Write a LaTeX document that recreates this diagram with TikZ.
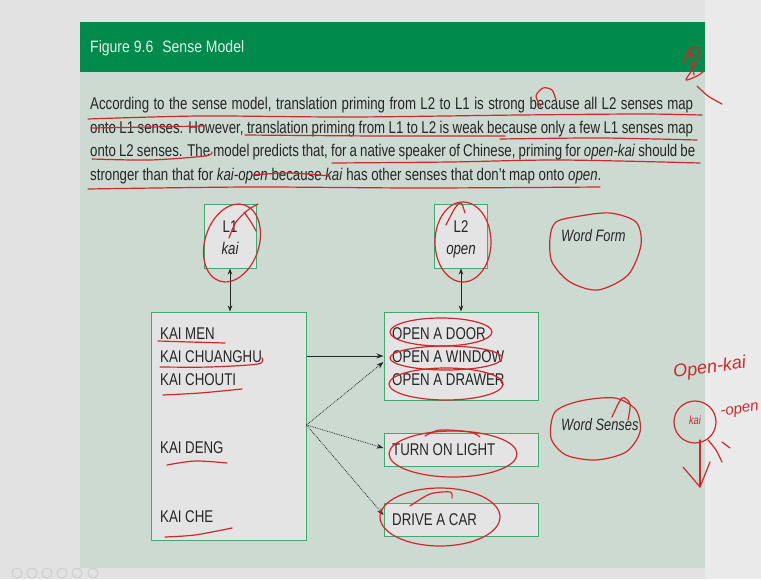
\documentclass[tikz,border=0pt]{standalone}
\usepackage{fontspec}
\setmainfont{Liberation Sans}
\newfontfamily\cond[FakeStretch=0.78]{Liberation Sans}
\newfontfamily\hfont[FakeStretch=0.85]{Liberation Sans}
\usetikzlibrary{arrows.meta}
\definecolor{hdr}{HTML}{008A4B}
\definecolor{panel}{HTML}{CCDAD2}
\definecolor{outer}{HTML}{E2E2E2}
\definecolor{outerr}{HTML}{EAEAEA}
\definecolor{boxfill}{HTML}{E4E4E4}
\definecolor{boxline}{HTML}{3DAA6E}
\definecolor{ink}{HTML}{D02828}
\definecolor{txt}{HTML}{262626}
\definecolor{icon}{HTML}{C9C9C9}
\begin{document}
\begin{tikzpicture}[x=1pt,y=-1pt,
  sbox/.style={draw=boxline, fill=boxfill, line width=1pt, inner sep=0},
  para/.style={anchor=base west, inner sep=0, font=\cond\fontsize{17}{18}\selectfont, text=txt},
  item/.style={anchor=base west, inner sep=0, font=\cond\fontsize{17}{18}\selectfont, text=txt},
  lang/.style={anchor=base, inner sep=0, font=\cond\fontsize{17}{18}\selectfont, text=txt},
  side/.style={anchor=base west, inner sep=0, font=\cond\itshape\fontsize{16.5}{18}\selectfont, text=txt},
  redink/.style={draw=ink, line width=1.2pt, line cap=round, line join=round},
  hand/.style={inner sep=0, text=ink, font=\itshape\fontsize{18}{18}\selectfont},
  link/.style={-{Stealth[length=7pt,width=5pt]}, line width=0.8pt, draw=txt},
  dlink/.style={{Stealth[length=6pt,width=4.5pt]}-{Stealth[length=6pt,width=4.5pt]}, line width=0.8pt, draw=txt},
  dotlink/.style={-{Stealth[length=7pt,width=5pt]}, line width=0.8pt, draw=txt, densely dotted}]
\useasboundingbox (0,0) rectangle (761,579);
% backgrounds
\fill[outer] (0,0) rectangle (761,579);
\fill[outerr] (705,0) rectangle (761,579);
\fill[panel] (80,22) rectangle (705,568);
\fill[hdr] (80,22) rectangle (705,72);
\node[anchor=base west, inner sep=0, font=\hfont\fontsize{16.5}{18}\selectfont, text=white!88!hdr] (title) at (90,52) {Figure 9.6\hspace{9pt}Sense Model};
% icons
\foreach \i/\xx in {1/17,2/32,3/47,4/62,5/77,6/93}
  \draw[icon, line width=0.8pt] (\xx,573) circle [radius=5];
% paragraph
\node[para] (p1) at (90,109) {\makebox[603pt][s]{According to the sense model, translation priming from L2 to L1 is strong because all L2 senses map}};
\node[para] (p2) at (90,133) {\makebox[603pt][s]{onto L1 senses. However, translation priming from L1 to L2 is weak because only a few L1 senses map}};
\node[para] (p3) at (90,156) {\makebox[605pt][s]{onto L2 senses. The model predicts that, for a native speaker of Chinese, priming for \textit{open-kai} should be}};
\node[para] (p4) at (90,180) {stronger than that for \textit{kai-open} because \textit{kai} has other senses that don’t map onto \textit{open}.};
% word form boxes
\node[sbox, minimum width=52, minimum height=64] (l1) at (230,236) {};
\node[sbox, minimum width=53, minimum height=64] (l2) at (461,236) {};
\node[lang] (l1a) at (230,232) {L1};
\node[lang] (l1b) at (230,254) {\itshape kai};
\node[lang] (l2a) at (461,232) {L2};
\node[lang] (l2b) at (461,254) {\itshape open};
% sense boxes
\node[sbox, minimum width=155, minimum height=228] (left) at (228.5,426) {};
\node[sbox, minimum width=154, minimum height=88] (r1) at (461,356) {};
\node[sbox, minimum width=154, minimum height=33] (r2) at (461,449.5) {};
\node[sbox, minimum width=154, minimum height=33] (r3) at (461,519.5) {};
\node[item] (k1) at (160,339) {KAI MEN};
\node[item] (k2) at (160,362) {KAI CHUANGHU};
\node[item] (k3) at (160,385) {KAI CHOUTI};
\node[item] (k4) at (160,453) {KAI DENG};
\node[item] (k5) at (160,522) {KAI CHE};
\node[item] (o1) at (392,339) {OPEN A DOOR};
\node[item] (o2) at (392,362) {OPEN A WINDOW};
\node[item] (o3) at (392,385) {OPEN A DRAWER};
\node[item] (o4) at (392,455) {TURN ON LIGHT};
\node[item] (o5) at (392,525) {DRIVE A CAR};
\node[side] (wf) at (561,241) {Word Form};
\node[side] (ws) at (561,430) {Word Senses};
% connectors
\draw[dlink] (l1.south) -- (l1.south |- left.north);
\draw[dlink] (l2.south) -- (l2.south |- r1.north);
\coordinate (src) at (306.5,425);
\draw[link] (left.east |- 0,356) -- (r1.west |- 0,356);
\draw[dotlink] (src) -- (r1.west |- 0,362);
\draw[dotlink] (src) -- (r2.west |- 0,448);
\draw[dotlink] (src) -- (r3.west |- 0,515);
% ---- red annotations ----
% top right
\draw[redink] plot[smooth] coordinates {(684,62) (689,50) (696,47) (699,55) (692,70) (686,80) (697,76) (703,72)};
\draw[redink] plot[smooth] coordinates {(689,50) (692,62) (694,75)};
\draw[redink] (684,62) -- (689,50) -- (694,57);
\draw[redink] plot[smooth] coordinates {(697,86) (708,96) (722,104)};
% paragraph marks
\draw[redink] plot[smooth] coordinates {(541,107) (536,96) (543,88) (552,90) (556,100)};
\draw[redink] plot[smooth] coordinates {(88,119) (200,116) (350,117) (520,115) (640,114) (702,115)};
\draw[redink] plot[smooth] coordinates {(92,128) (150,127) (205,126)};
\draw[redink] plot[smooth] coordinates {(245,135) (380,136) (505,136)};
\draw[redink] plot[smooth] coordinates {(500,139) (600,138) (697,140)};
\draw[redink] plot[smooth] coordinates {(92,159) (150,160) (205,156) (212,152)};
\draw[redink] plot[smooth] coordinates {(332,163) (450,162) (560,160) (700,163)};
\draw[redink] plot[smooth] coordinates {(252,175) (290,173) (330,176)};
\draw[redink] plot[smooth] coordinates {(88,189) (250,187) (420,188) (600,187)};
% L1 / L2
\draw[redink, rotate around={-18:(232,243)}] (232,243) ellipse [x radius=27, y radius=40];
\draw[redink] plot[smooth] coordinates {(229,238) (236,222) (248,210) (258,204)};
\draw[redink] plot[smooth] coordinates {(244,212) (251,222) (256,231)};
\draw[redink] (463,242) ellipse [x radius=28, y radius=40];
\draw[redink] plot[smooth] coordinates {(446,225) (455,208) (461,203) (465,213)};
% word form / senses
\draw[redink] plot[smooth cycle] coordinates {(556,222) (580,216) (610,213) (636,222) (641,245) (628,275) (598,290) (570,282) (552,262) (550,238)};
\draw[redink] plot[smooth cycle] coordinates {(555,412) (580,401) (615,398) (636,410) (640,432) (626,452) (596,460) (566,455) (551,438)};
\draw[redink] plot[smooth] coordinates {(612,417) (622,398) (630,404) (628,420)};
% items
\draw[redink] plot[smooth] coordinates {(158,341) (190,342) (225,343)};
\draw[redink] plot[smooth] coordinates {(160,367) (210,367) (258,364) (262,358)};
\draw[redink] plot[smooth] coordinates {(163,395) (200,393) (242,389)};
\draw[redink] plot[smooth] coordinates {(167,465) (195,461) (227,463)};
\draw[redink] plot[smooth] coordinates {(165,537) (195,535) (232,528)};
\draw[redink] (441,332) ellipse [x radius=51, y radius=14];
\draw[redink] (446,358) ellipse [x radius=56, y radius=12];
\draw[redink] (446,384) ellipse [x radius=57, y radius=16];
\draw[redink] (453,454) ellipse [x radius=64, y radius=23];
\draw[redink] plot[smooth] coordinates {(425,436) (440,430) (470,432) (480,437)};
\draw[redink] (440,517) ellipse [x radius=60, y radius=29];
\draw[redink] plot[smooth] coordinates {(410,506) (430,494) (450,492) (452,498)};
% handwritten right side
\node[hand, anchor=base west, rotate=8] (hw1) at (674,378) {Open-kai};
\node[hand, anchor=base west, rotate=8, font=\itshape\fontsize{15}{15}\selectfont] (hw2) at (721,416) {-open};
\node[hand, font=\cond\itshape\fontsize{12}{12}\selectfont] (hw3) at (695,420) {kai};
\draw[redink] (695,422) circle [radius=21];
\draw[redink] (700,440) -- (700,487);
\draw[redink] (683,467) -- (700,487) -- (710,462);
\draw[redink] plot[smooth] coordinates {(708,440) (716,450) (722,462)};
\draw[redink] (722,442) -- (730,448);
\end{tikzpicture}
\end{document}
